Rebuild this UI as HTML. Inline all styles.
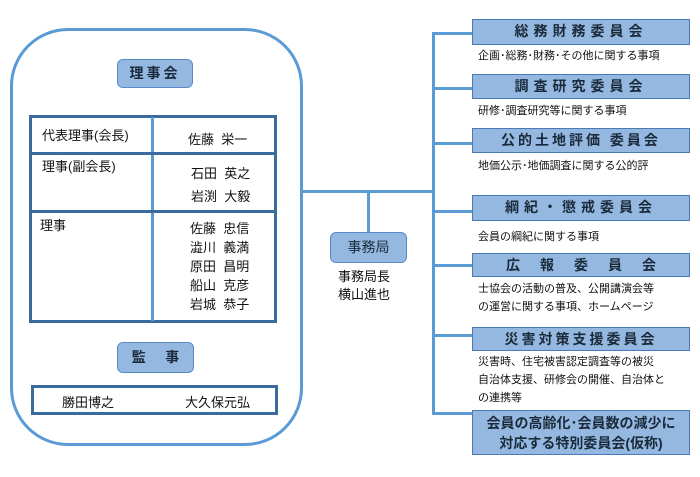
<!DOCTYPE html>
<html><head><meta charset="utf-8"><style>
body{margin:0;width:700px;height:477px;background:#fff;position:relative;overflow:hidden;font-family:"Liberation Sans","Noto Sans CJK JP",sans-serif;color:#111}
div{position:absolute;box-sizing:border-box}
.l{background:#5b9bd5}
.pill{background:#95b8e0;border:1.5px solid #5a8ac6;border-radius:6px;text-align:center;font-size:14px;font-weight:bold;color:#1a2a3a;white-space:nowrap}
.cb{background:#95b8e0;border:1.5px solid #4a7ab8;text-align:center;font-size:14px;font-weight:bold;color:#1a2a3a;letter-spacing:5px;line-height:23px;left:472px;width:218px;white-space:nowrap}
.d{left:478px;font-size:11px;line-height:18px;white-space:nowrap}
.t{font-size:13px;white-space:nowrap}
</style></head><body>
<div style="left:10px;top:28px;width:293px;height:418px;border:3px solid #5b9bd5;border-radius:58px"></div>
<div class="pill" style="left:117px;top:59px;width:76px;height:29px;line-height:26px;letter-spacing:3px">理事会</div>
<div style="left:29px;top:115px;width:248px;height:208px;border:3px solid #3b6b9e"></div>
<div style="left:151px;top:117px;width:3px;height:204px;background:#5b9bd5"></div>
<div style="left:31px;top:152px;width:244px;height:3px;background:#3b6b9e"></div>
<div style="left:31px;top:210px;width:244px;height:3px;background:#3b6b9e"></div>
<div class="t" style="left:42px;top:125px">代表理事(会長)</div>
<div class="t" style="left:188px;top:129px">佐藤&nbsp;&nbsp;栄一</div>
<div class="t" style="left:42px;top:156px">理事(副会長)</div>
<div class="t" style="left:191px;top:163px">石田&nbsp;&nbsp;英之</div>
<div class="t" style="left:191px;top:186px">岩渕&nbsp;&nbsp;大毅</div>
<div class="t" style="left:40px;top:215px">理事</div>
<div class="t" style="left:190px;top:219px;line-height:19px">佐藤&nbsp;&nbsp;忠信<br>澁川&nbsp;&nbsp;義満<br>原田&nbsp;&nbsp;昌明<br>船山&nbsp;&nbsp;克彦<br>岩城&nbsp;&nbsp;恭子</div>
<div class="pill" style="left:117px;top:342px;width:77px;height:31px;line-height:28px">監&nbsp;&nbsp;&nbsp;&nbsp;&nbsp;事</div>
<div style="left:31px;top:385px;width:247px;height:30px;border:3px solid #3b6b9e"></div>
<div class="t" style="left:62px;top:392px">勝田博之</div>
<div class="t" style="left:185px;top:392px">大久保元弘</div>
<div class="l" style="left:302px;top:190px;width:133px;height:3px"></div>
<div class="l" style="left:367px;top:192px;width:3px;height:40px"></div>
<div class="l" style="left:432px;top:32px;width:3px;height:382px"></div>
<div class="l" style="left:432px;top:32px;width:40px;height:3px"></div>
<div class="l" style="left:432px;top:87px;width:40px;height:3px"></div>
<div class="l" style="left:432px;top:142px;width:40px;height:3px"></div>
<div class="l" style="left:432px;top:210px;width:40px;height:3px"></div>
<div class="l" style="left:432px;top:264px;width:40px;height:3px"></div>
<div class="l" style="left:432px;top:334px;width:40px;height:3px"></div>
<div class="l" style="left:432px;top:412px;width:40px;height:3px"></div>
<div class="pill" style="left:330px;top:232px;width:77px;height:31px;line-height:28px;font-weight:normal;font-size:14px">事務局</div>
<div class="t" style="left:338px;top:268px;line-height:18px">事務局長<br>横山進也</div>
<div class="cb" style="top:19px;height:26px">総務財務委員会</div>
<div class="d" style="top:47px">企画･総務･財務･その他に関する事項</div>
<div class="cb" style="top:74px;height:25px">調査研究委員会</div>
<div class="d" style="top:102px">研修･調査研究等に関する事項</div>
<div class="cb" style="top:128px;height:25px;letter-spacing:3px">公的土地評価 委員会</div>
<div class="d" style="top:157px">地価公示･地価調査に関する公的評</div>
<div class="cb" style="top:195px;height:26px">綱紀・懲戒委員会</div>
<div class="d" style="top:228px">会員の綱紀に関する事項</div>
<div class="cb" style="top:253px;height:24px;letter-spacing:20px;padding-left:20px">広報委員会</div>
<div class="d" style="top:280px">士協会の活動の普及、公開講演会等<br>の運営に関する事項、ホームページ</div>
<div class="cb" style="top:327px;height:24px;letter-spacing:3px">災害対策支援委員会</div>
<div class="d" style="top:353px">災害時、住宅被害認定調査等の被災<br>自治体支援、研修会の開催、自治体と<br>の連携等</div>
<div class="cb" style="top:410px;height:45px;letter-spacing:0;line-height:20px;font-size:14px;padding-top:2px">会員の高齢化･会員数の減少に<br>対応する特別委員会(仮称)</div>
</body></html>
